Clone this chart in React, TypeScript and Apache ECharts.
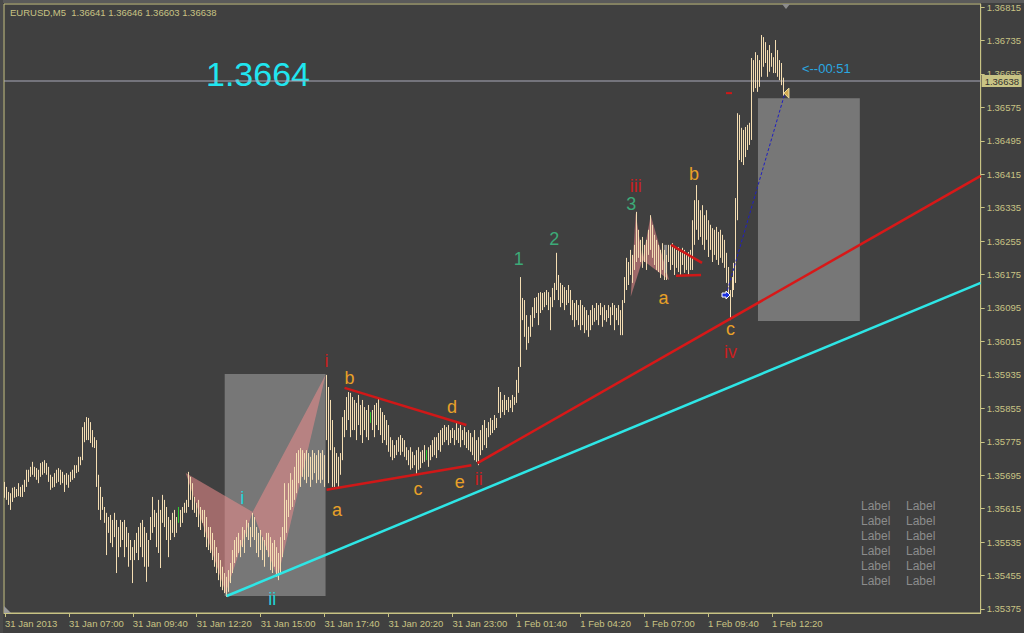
import React, { useEffect, useRef } from "react";
import * as echarts from "echarts";

// ---------- data ----------
const symbolName = "EURUSD,M5";
const lastBarOHLC = [1.36641, 1.36646, 1.36603, 1.36638];
const bidPrice = 1.36638;
const bigPriceText = "1.3664";
const timerText = "<--00:51";

// 5-minute bars, 31 Jan 2013 04:20 .. 23:55
const janHigh = [
  1.35679, 1.35667, 1.35655, 1.35652, 1.35665, 1.35667, 1.35662, 1.35676, 1.35667, 1.35672,
  1.35684, 1.35708, 1.35708, 1.35715, 1.35727, 1.35715, 1.35712, 1.35708, 1.35724, 1.35727,
  1.35731, 1.35724, 1.35715, 1.35696, 1.35691, 1.35700, 1.35708, 1.35712, 1.35708, 1.35703,
  1.35696, 1.35700, 1.35696, 1.35703, 1.35708, 1.35719, 1.35719, 1.35739, 1.35739, 1.35810,
  1.35822, 1.35834, 1.35832, 1.35822, 1.35803, 1.35786, 1.35779, 1.35696, 1.35667, 1.35643,
  1.35619, 1.35605, 1.35595, 1.35600, 1.35588, 1.35605, 1.35588, 1.35571, 1.35588, 1.35583,
  1.35588, 1.35571, 1.35557, 1.35540, 1.35523, 1.35540, 1.35557, 1.35571, 1.35581, 1.35588,
  1.35571, 1.35557, 1.35540, 1.35595, 1.35643, 1.35612, 1.35605, 1.35636, 1.35612, 1.35648,
  1.35636, 1.35619, 1.35595, 1.35588, 1.35605, 1.35612, 1.35595, 1.35619, 1.35612, 1.35619,
  1.35629, 1.35636, 1.35703, 1.35691, 1.35676, 1.35643, 1.35629, 1.35636, 1.35619, 1.35612,
  1.35612, 1.35595, 1.35571, 1.35571, 1.35557, 1.35540, 1.35523, 1.35509, 1.35492, 1.35476,
  1.35461, 1.35452, 1.35468, 1.35485, 1.35516, 1.35540, 1.35547, 1.35557, 1.35540, 1.35571,
  1.35564, 1.35588, 1.35581, 1.35571, 1.35605, 1.35595, 1.35571, 1.35557, 1.35564, 1.35547,
  1.35540, 1.35557, 1.35557, 1.35547, 1.35533, 1.35540, 1.35523, 1.35509, 1.35547, 1.35571,
  1.35676, 1.35636, 1.35676, 1.35700, 1.35684, 1.35715, 1.35748, 1.35755, 1.35760, 1.35755,
  1.35748, 1.35755, 1.35748, 1.35739, 1.35755, 1.35748, 1.35743, 1.35755, 1.35748, 1.35755,
  1.35743, 1.35935, 1.35906, 1.35875, 1.35827, 1.35762, 1.35748, 1.35739, 1.35748, 1.35834,
  1.35851, 1.35882, 1.35894, 1.35892, 1.35882, 1.35875, 1.35868, 1.35887, 1.35863, 1.35875,
  1.35858, 1.35851, 1.35863, 1.35846, 1.35851, 1.35863, 1.35868, 1.35880, 1.35856, 1.35846,
  1.35839, 1.35827, 1.35815, 1.35786, 1.35779, 1.35767, 1.35779, 1.35786, 1.35791, 1.35784,
  1.35779, 1.35762, 1.35755, 1.35762, 1.35751, 1.35743, 1.35755, 1.35762, 1.35751, 1.35755,
  1.35767, 1.35755, 1.35762, 1.35767, 1.35779, 1.35786, 1.35786, 1.35796, 1.35803, 1.35808,
  1.35815, 1.35810, 1.35815, 1.35803, 1.35808, 1.35803, 1.35822, 1.35808, 1.35815, 1.35803,
  1.35810, 1.35798, 1.35803, 1.35796, 1.35786, 1.35803,
];
const janLow = [
  1.35641, 1.35636, 1.35624, 1.35612, 1.35631, 1.35641, 1.35643, 1.35645, 1.35643, 1.35643,
  1.35655, 1.35667, 1.35679, 1.35691, 1.35696, 1.35691, 1.35684, 1.35676, 1.35691, 1.35696,
  1.35700, 1.35696, 1.35679, 1.35660, 1.35665, 1.35667, 1.35676, 1.35679, 1.35672, 1.35676,
  1.35655, 1.35672, 1.35665, 1.35679, 1.35684, 1.35688, 1.35700, 1.35703, 1.35719, 1.35731,
  1.35774, 1.35779, 1.35779, 1.35772, 1.35762, 1.35760, 1.35667, 1.35612, 1.35588, 1.35612,
  1.35581, 1.35504, 1.35557, 1.35533, 1.35523, 1.35547, 1.35461, 1.35499, 1.35523, 1.35540,
  1.35499, 1.35523, 1.35476, 1.35492, 1.35437, 1.35492, 1.35509, 1.35492, 1.35523, 1.35499,
  1.35476, 1.35440, 1.35476, 1.35540, 1.35557, 1.35571, 1.35523, 1.35509, 1.35473, 1.35581,
  1.35571, 1.35540, 1.35499, 1.35540, 1.35557, 1.35547, 1.35557, 1.35581, 1.35571, 1.35581,
  1.35605, 1.35605, 1.35619, 1.35636, 1.35612, 1.35605, 1.35595, 1.35571, 1.35564, 1.35581,
  1.35547, 1.35523, 1.35516, 1.35509, 1.35492, 1.35476, 1.35461, 1.35444, 1.35428, 1.35420,
  1.35413, 1.35404, 1.35416, 1.35437, 1.35461, 1.35485, 1.35499, 1.35509, 1.35499, 1.35523,
  1.35509, 1.35547, 1.35540, 1.35523, 1.35547, 1.35540, 1.35509, 1.35499, 1.35516, 1.35492,
  1.35476, 1.35516, 1.35499, 1.35468, 1.35461, 1.35476, 1.35452, 1.35444, 1.35461, 1.35499,
  1.35540, 1.35557, 1.35595, 1.35612, 1.35619, 1.35636, 1.35652, 1.35676, 1.35667, 1.35691,
  1.35684, 1.35676, 1.35691, 1.35667, 1.35684, 1.35700, 1.35676, 1.35684, 1.35676, 1.35684,
  1.35667, 1.35779, 1.35676, 1.35755, 1.35667, 1.35667, 1.35676, 1.35667, 1.35696, 1.35731,
  1.35786, 1.35803, 1.35827, 1.35786, 1.35803, 1.35803, 1.35779, 1.35815, 1.35791, 1.35772,
  1.35803, 1.35786, 1.35779, 1.35820, 1.35803, 1.35786, 1.35815, 1.35803, 1.35791, 1.35772,
  1.35779, 1.35767, 1.35751, 1.35739, 1.35731, 1.35736, 1.35743, 1.35751, 1.35743, 1.35751,
  1.35739, 1.35731, 1.35719, 1.35708, 1.35712, 1.35719, 1.35696, 1.35708, 1.35712, 1.35724,
  1.35727, 1.35731, 1.35715, 1.35731, 1.35739, 1.35743, 1.35736, 1.35755, 1.35751, 1.35767,
  1.35774, 1.35779, 1.35767, 1.35772, 1.35784, 1.35767, 1.35779, 1.35772, 1.35762, 1.35779,
  1.35767, 1.35760, 1.35755, 1.35751, 1.35743, 1.35731,
];
// 1 Feb 00:00 .. 12:50
const febHigh = [
  1.35779, 1.35786, 1.35803, 1.35815, 1.35827, 1.35808, 1.35822, 1.35832, 1.35827, 1.35839,
  1.35832, 1.35906, 1.35894, 1.35875, 1.35887, 1.35875, 1.35882, 1.35875, 1.35887, 1.35882,
  1.35923, 1.35954, 1.36169, 1.36119, 1.36114, 1.36078, 1.36050, 1.36078, 1.36097, 1.36119,
  1.36121, 1.36131, 1.36133, 1.36131, 1.36133, 1.36138, 1.36133, 1.36121, 1.36143, 1.36155,
  1.36227, 1.36174, 1.36155, 1.36150, 1.36145, 1.36138, 1.36150, 1.36138, 1.36114, 1.36107,
  1.36114, 1.36102, 1.36114, 1.36102, 1.36097, 1.36090, 1.36078, 1.36090, 1.36102, 1.36095,
  1.36107, 1.36102, 1.36107, 1.36097, 1.36102, 1.36090, 1.36102, 1.36097, 1.36107, 1.36102,
  1.36095, 1.36102, 1.36090, 1.36114, 1.36169, 1.36215, 1.36205, 1.36234, 1.36222, 1.36246,
  1.36325, 1.36282, 1.36258, 1.36265, 1.36246, 1.36258, 1.36282, 1.36317, 1.36294, 1.36270,
  1.36258, 1.36246, 1.36234, 1.36250, 1.36234, 1.36222, 1.36246, 1.36246, 1.36250, 1.36239,
  1.36234, 1.36241, 1.36229, 1.36239, 1.36234, 1.36222, 1.36229, 1.36234, 1.36305, 1.36353,
  1.36389, 1.36353, 1.36329, 1.36341, 1.36317, 1.36329, 1.36305, 1.36294, 1.36286, 1.36282,
  1.36289, 1.36277, 1.36282, 1.36270, 1.36258, 1.36227, 1.36193, 1.36138, 1.36169, 1.36203,
  1.36358, 1.36561, 1.36557, 1.36526, 1.36521, 1.36528, 1.36533, 1.36538, 1.36693, 1.36688,
  1.36707, 1.36700, 1.36688, 1.36748, 1.36743, 1.36731, 1.36712, 1.36724, 1.36705, 1.36695,
  1.36736, 1.36712, 1.36688, 1.36681, 1.36646,
];
const febLow = [
  1.35727, 1.35719, 1.35743, 1.35755, 1.35767, 1.35760, 1.35786, 1.35791, 1.35796, 1.35803,
  1.35808, 1.35844, 1.35832, 1.35846, 1.35839, 1.35851, 1.35846, 1.35856, 1.35846, 1.35863,
  1.35868, 1.35892, 1.35954, 1.36066, 1.36026, 1.35995, 1.36011, 1.36026, 1.36050, 1.36071,
  1.36083, 1.36054, 1.36083, 1.36090, 1.36097, 1.36102, 1.36090, 1.36042, 1.36097, 1.36114,
  1.36138, 1.36114, 1.36097, 1.36107, 1.36090, 1.36102, 1.36107, 1.36078, 1.36066, 1.36050,
  1.36066, 1.36054, 1.36042, 1.36054, 1.36035, 1.36042, 1.36026, 1.36042, 1.36054, 1.36062,
  1.36066, 1.36054, 1.36078, 1.36050, 1.36066, 1.36062, 1.36071, 1.36054, 1.36078, 1.36042,
  1.36066, 1.36054, 1.36030, 1.36030, 1.36107, 1.36138, 1.36150, 1.36174, 1.36155, 1.36186,
  1.36205, 1.36215, 1.36205, 1.36191, 1.36205, 1.36186, 1.36222, 1.36234, 1.36215, 1.36198,
  1.36186, 1.36181, 1.36167, 1.36186, 1.36162, 1.36162, 1.36205, 1.36186, 1.36198, 1.36174,
  1.36191, 1.36181, 1.36174, 1.36198, 1.36179, 1.36186, 1.36174, 1.36186, 1.36186, 1.36246,
  1.36282, 1.36258, 1.36265, 1.36246, 1.36234, 1.36258, 1.36217, 1.36234, 1.36205, 1.36222,
  1.36210, 1.36198, 1.36215, 1.36203, 1.36191, 1.36155, 1.36131, 1.36066, 1.36121, 1.36138,
  1.36155, 1.36305, 1.36449, 1.36444, 1.36437, 1.36456, 1.36473, 1.36485, 1.36497, 1.36612,
  1.36621, 1.36612, 1.36624, 1.36648, 1.36672, 1.36681, 1.36648, 1.36660, 1.36672, 1.36657,
  1.36657, 1.36648, 1.36640, 1.36628, 1.36603,
];
const greenBars = [87, 183, 211];
const futureBars = 98;

const timeLabels = [
  "31 Jan 2013", "31 Jan 07:00", "31 Jan 09:40", "31 Jan 12:20", "31 Jan 15:00", "31 Jan 17:40",
  "31 Jan 20:20", "31 Jan 23:00", "1 Feb 01:40", "1 Feb 04:20", "1 Feb 07:00", "1 Feb 09:40", "1 Feb 12:20",
];
const timeLabelBars = [0, 32, 64, 96, 128, 160, 192, 224, 256, 288, 320, 352, 384];
const priceTicks = [
  1.35375, 1.35455, 1.35535, 1.35615, 1.35695, 1.35775, 1.35855, 1.35935, 1.36015, 1.36095,
  1.36175, 1.36255, 1.36335, 1.36415, 1.36495, 1.36575, 1.36655, 1.36735, 1.36815,
];
const priceMin = 1.353654;
const priceMax = 1.368222;

// chart objects, anchored at [bar index, price]
const grayRects = [
  [110, 1.35937, 160.5, 1.35406],
  [377, 1.36597, 428, 1.36064],
];
const smallGrayRect = [[330, 1.36246, 331.5, 1.36179]];
const patternTriangles = [
  [90.5, 1.357, 110.5, 1.35413, 124, 1.35607],
  [124, 1.35607, 136.5, 1.35449, 160.5, 1.35935],
  [313.3, 1.36122, 315.8, 1.36322, 319.2, 1.3621],
  [319.2, 1.3621, 323.3, 1.36317, 332.5, 1.36162],
];
const cyanTrend = [[111, 1.35406], [488.5, 1.36155]];
const redTrend = [[236.5, 1.35724], [488.5, 1.36411]];
const triangleUpper = [[170, 1.35904], [231, 1.35815]];
const triangleLower = [[161, 1.3566], [233.5, 1.35719]];
const flagUpper = [[333.5, 1.36246], [349, 1.36203]];
const flagLower = [[336, 1.36172], [348.5, 1.36174]];
const redDash = [[361, 1.36609], [364, 1.36609]];
const projection = [[361, 1.36126], [390.5, 1.36609]];
const markers = [[361, 1.36126, 0], [391, 1.36609, 1]];

const waveLabels: [string, number, number, string][] = [
  ["i", 118.75, 1.35641, "cyan"],
  ["ii", 133.75, 1.354, "cyan"],
  ["i", 161, 1.35968, "red"],
  ["a", 166.25, 1.35612, "orange"],
  ["b", 172.5, 1.35928, "orange"],
  ["c", 206.75, 1.35661, "orange"],
  ["d", 223.75, 1.35857, "orange"],
  ["e", 227.75, 1.35679, "orange"],
  ["ii", 237.25, 1.35687, "red"],
  ["1", 257.25, 1.36212, "green"],
  ["2", 275, 1.36259, "green"],
  ["3", 313.5, 1.36344, "green"],
  ["iii", 315.75, 1.36387, "red"],
  ["a", 329.75, 1.36119, "orange"],
  ["b", 345, 1.36416, "orange"],
  ["c", 363.25, 1.36044, "orange"],
  ["iv", 363.25, 1.3599, "red"],
];
const timerAnchor = [399, 1.36667];
const cornerLabels = ["Label", "Label", "Label", "Label", "Label", "Label"];

// ---------- styles ----------
const BG = "#404040";
const KHAKI = "#c8c384";
const WHEAT = "#f5deb3";
const GREEN_BAR = "#32cd32";
const FONT = '"Liberation Sans", Arial, sans-serif';
const labelColors: Record<string, string> = {
  cyan: "#22d4de",
  red: "#c81e1e",
  orange: "#e8a028",
  green: "#3caa78",
};

export default function App() {
  const ref = useRef<HTMLDivElement>(null);
  useEffect(() => {
    if (!ref.current) return;
    const chart = echarts.init(ref.current, undefined, { renderer: "svg" });
    const highs = [...janHigh, ...febHigh];
    const lows = [...janLow, ...febLow];
    const barData = highs.map((h, i) => [i, lows[i], h, greenBars.includes(i) ? 1 : 0]);
    const xMax = highs.length + futureBars - 0.5;
    const bidLine = [[-0.5, bidPrice], [xMax, bidPrice]];

    const lineSeries = (data: number[][], color: string, width: number, type: any = "solid", z = 5) => ({
      type: "line",
      data,
      symbol: "none",
      showSymbol: false,
      silent: true,
      z,
      lineStyle: { color, width, type },
      animation: false,
    });

    const graphics: any[] = [
      { type: "rect", shape: { x: 0, y: 0, width: 1024, height: 3 }, style: { fill: "#5a5a5a" } },
      { type: "rect", shape: { x: 0, y: 0, width: 3, height: 633 }, style: { fill: "#4a4a4a" } },
      {
        type: "text",
        x: 10,
        y: 12,
        style: {
          text: symbolName + "\u00a0\u00a0" + lastBarOHLC.map((v) => v.toFixed(5)).join(" "),
          fill: KHAKI,
          font: `9.5px ${FONT}`,
          align: "left",
          verticalAlign: "middle",
        },
      },
      {
        type: "text",
        x: 258,
        y: 74,
        style: {
          text: bigPriceText,
          fill: "#20e6f0",
          font: `34px ${FONT}`,
          align: "center",
          verticalAlign: "middle",
        },
      },
      {
        type: "polygon",
        shape: { points: [[782, 4], [790, 4], [786, 9]] },
        style: { fill: "#8c8c8c" },
      },
      {
        type: "polygon",
        shape: { points: [[4, 606], [4, 613], [11, 613]] },
        style: { fill: "#9a9a9a" },
      },
    ];
    cornerLabels.forEach((t, r) => {
      [861, 906].forEach((x) => {
        graphics.push({
          type: "text",
          x,
          y: 506 + r * 15,
          style: { text: t, fill: "#8c8c8c", font: `12px ${FONT}`, align: "left", verticalAlign: "middle" },
        });
      });
    });

    const option: any = {
      animation: false,
      backgroundColor: BG,
      grid: {
        left: 4,
        top: 4,
        width: 978,
        height: 609,
        show: true,
        borderColor: KHAKI,
        borderWidth: 1,
        backgroundColor: BG,
        containLabel: false,
      },
      xAxis: {
        type: "value",
        min: -0.5,
        max: xMax,
        splitLine: { show: false },
        axisLine: { show: true, onZero: false, lineStyle: { color: KHAKI, width: 1 } },
        axisTick: { show: true, customValues: timeLabelBars, length: 4, lineStyle: { color: KHAKI } },
        axisLabel: {
          customValues: timeLabelBars,
          formatter: (v: number) => timeLabels[timeLabelBars.indexOf(Math.round(v))] ?? "",
          color: KHAKI,
          fontSize: 9.5,
          fontFamily: FONT,
          align: "left",
          margin: 5,
        },
      },
      yAxis: {
        type: "value",
        position: "right",
        min: priceMin,
        max: priceMax,
        splitLine: { show: false },
        axisLine: { show: true, onZero: false, lineStyle: { color: KHAKI, width: 1 } },
        axisTick: { show: true, customValues: priceTicks, length: 4, lineStyle: { color: KHAKI } },
        axisLabel: {
          customValues: priceTicks,
          formatter: (v: number) => v.toFixed(5),
          color: KHAKI,
          fontSize: 9.5,
          fontFamily: FONT,
          margin: 6,
        },
      },
      graphic: graphics,
      series: [
        {
          type: "custom",
          name: "rects",
          silent: true,
          z: 1,
          data: grayRects,
          renderItem: (params: any, api: any) => {
            const p1 = api.coord([api.value(0), api.value(1)]);
            const p2 = api.coord([api.value(2), api.value(3)]);
            return {
              type: "rect",
              shape: { x: p1[0], y: p1[1], width: p2[0] - p1[0], height: p2[1] - p1[1] },
              style: { fill: "#777777" },
            };
          },
        },
        {
          type: "custom",
          name: "triangles",
          silent: true,
          z: 2,
          data: patternTriangles,
          renderItem: (params: any, api: any) => {
            const pts = [0, 2, 4].map((k) => api.coord([api.value(k), api.value(k + 1)]));
            return {
              type: "polygon",
              shape: { points: pts },
              style: { fill: "rgba(236,140,140,0.55)" },
            };
          },
        },
        {
          type: "custom",
          name: "smallRect",
          silent: true,
          z: 2,
          data: smallGrayRect,
          renderItem: (params: any, api: any) => {
            const p1 = api.coord([api.value(0), api.value(1)]);
            const p2 = api.coord([api.value(2), api.value(3)]);
            return {
              type: "rect",
              shape: { x: p1[0], y: p1[1], width: p2[0] - p1[0], height: p2[1] - p1[1] },
              style: { fill: "#8e8e8e" },
            };
          },
        },
        lineSeries(bidLine, "#a8a8b8", 1, "solid", 2),
        {
          type: "custom",
          name: "EURUSD",
          silent: true,
          z: 3,
          data: barData,
          renderItem: (params: any, api: any) => {
            const i = api.value(0);
            const top = api.coord([i, api.value(2)]);
            const bot = api.coord([i, api.value(1)]);
            const x = Math.floor(top[0]) + 0.5;
            return {
              type: "line",
              shape: { x1: x, y1: top[1], x2: x, y2: bot[1] },
              style: { stroke: api.value(3) ? GREEN_BAR : WHEAT, lineWidth: 1 },
            };
          },
        },
        lineSeries(cyanTrend, "#2ee6e6", 2.5),
        lineSeries(redTrend, "#d81818", 2.5),
        lineSeries(triangleUpper, "#d01818", 2.5),
        lineSeries(triangleLower, "#d01818", 2.5),
        lineSeries(flagUpper, "#d01818", 2.5),
        lineSeries(flagLower, "#d01818", 2.5),
        lineSeries(redDash, "#d01818", 2),
        lineSeries(projection, "#2020c0", 1, [3, 2]),
        {
          type: "custom",
          name: "bidBox",
          silent: true,
          z: 9,
          clip: false,
          data: [[xMax, bidPrice]],
          renderItem: (params: any, api: any) => {
            const p = api.coord([api.value(0), api.value(1)]);
            return {
              type: "group",
              children: [
                {
                  type: "rect",
                  shape: { x: p[0] + 1, y: Math.round(p[1]) - 6, width: 40, height: 12 },
                  style: { fill: KHAKI },
                },
                {
                  type: "text",
                  x: p[0] + 4,
                  y: Math.round(p[1]),
                  style: {
                    text: bidPrice.toFixed(5),
                    fill: "#303030",
                    font: `9.5px ${FONT}`,
                    align: "left",
                    verticalAlign: "middle",
                  },
                },
              ],
            };
          },
        },
        {
          type: "custom",
          name: "markers",
          silent: true,
          z: 6,
          data: markers,
          renderItem: (params: any, api: any) => {
            const p = api.coord([api.value(0), api.value(1)]);
            if (api.value(2) === 0) {
              const rel = [[-4, -2], [0, -2], [0, -4], [4, 0], [0, 4], [0, 2], [-4, 2]];
              return {
                type: "polygon",
                shape: { points: rel.map((q) => [p[0] + q[0], p[1] + q[1]]) },
                style: { fill: "#1a30e0", stroke: "#ffffff", lineWidth: 1 },
              };
            }
            const rel = [[-2, 0], [3, -5], [3, 5]];
            return {
              type: "polygon",
              shape: { points: rel.map((q) => [p[0] + q[0], p[1] + q[1]]) },
              style: { fill: "#d4aa50", stroke: "#f0e0a0", lineWidth: 1 },
            };
          },
        },
        {
          type: "custom",
          name: "waves",
          silent: true,
          z: 7,
          data: waveLabels.map((w) => [w[1], w[2]]),
          renderItem: (params: any, api: any) => {
            const w = waveLabels[params.dataIndex];
            const p = api.coord([api.value(0), api.value(1)]);
            return {
              type: "text",
              x: p[0],
              y: p[1],
              style: {
                text: w[0],
                fill: labelColors[w[3]],
                font: `18px ${FONT}`,
                align: "center",
                verticalAlign: "middle",
              },
            };
          },
        },
        {
          type: "custom",
          name: "timer",
          silent: true,
          z: 7,
          data: [timerAnchor],
          renderItem: (params: any, api: any) => {
            const p = api.coord([api.value(0), api.value(1)]);
            return {
              type: "text",
              x: p[0],
              y: p[1],
              style: {
                text: timerText,
                fill: "#2aa8e0",
                font: `13px ${FONT}`,
                align: "left",
                verticalAlign: "middle",
              },
            };
          },
        },
      ],
    };
    chart.setOption(option);
    return () => chart.dispose();
  }, []);
  return (
    <div
      ref={ref}
      style={{ position: "absolute", left: 0, top: 0, width: 1024, height: 633, background: BG }}
    />
  );
}
